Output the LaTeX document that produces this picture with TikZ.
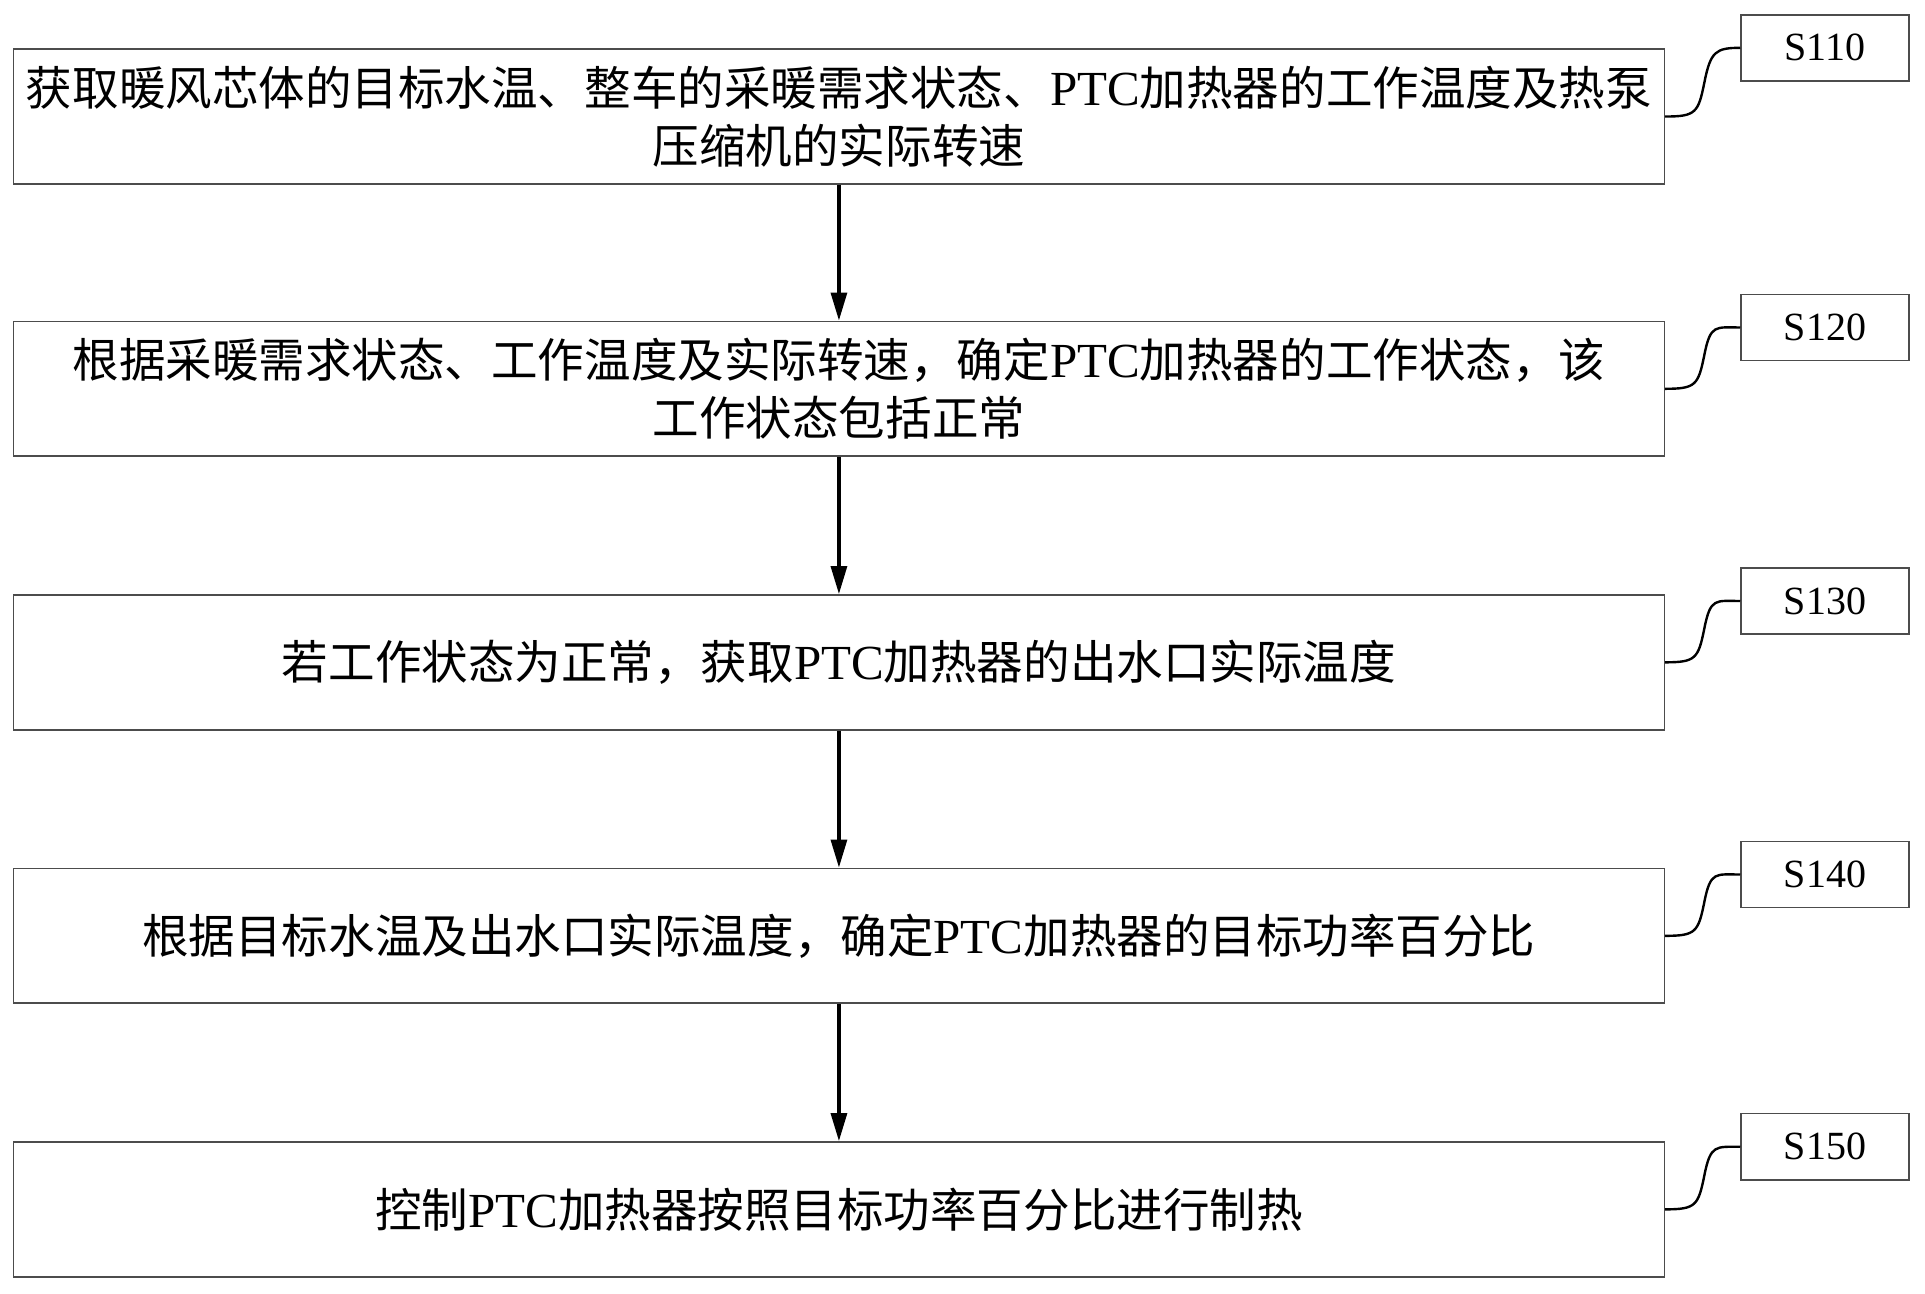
\documentclass[tikz,border=0pt]{standalone}
\usepackage{fontspec}
\setmainfont{Liberation Serif}
\newfontfamily\cjk{Noto Sans CJK SC}[Scale=0.95]
\begin{document}
\begin{tikzpicture}[x=0.6133pt,y=-0.6133pt,
  stepbox/.style={draw=black!70,line width=0.8pt,minimum width=1346*0.6133pt,minimum height=110*0.6133pt,align=center,inner sep=0pt,font=\fontsize{24.5}{29}\selectfont},
  tagbox/.style={draw=black!70,line width=0.8pt,minimum width=137*0.6133pt,minimum height=54*0.6133pt,inner sep=0pt,font=\fontsize{20}{22}\selectfont},
  arr/.style={-{Triangle[length=14pt,width=8pt]},line width=1.6pt},
  wig/.style={line width=1.2pt}]
\usetikzlibrary{arrows.meta}
\useasboundingbox (0,0) rectangle (1569.5,1055);
\node[stepbox] (b1) at (684,95) {{\cjk 获取暖风芯体的目标水温、整车的采暖需求状态、}PTC{\cjk 加热器的工作温度及热泵}\\{\cjk 压缩机的实际转速}};
\node[stepbox] (b2) at (684,317) {{\cjk 根据采暖需求状态、工作温度及实际转速，确定}PTC{\cjk 加热器的工作状态，该}\\{\cjk 工作状态包括正常}};
\node[stepbox] (b3) at (684,540) {{\cjk 若工作状态为正常，获取}PTC{\cjk 加热器的出水口实际温度}};
\node[stepbox] (b4) at (684,763) {{\cjk 根据目标水温及出水口实际温度，确定}PTC{\cjk 加热器的目标功率百分比}};
\node[stepbox] (b5) at (684,986) {{\cjk 控制}PTC{\cjk 加热器按照目标功率百分比进行制热}};
\foreach \i/\y/\t in {1/39/S110,2/267/S120,3/490/S130,4/713/S140,5/935/S150}{
  \node[tagbox] (t\i) at (1488,\y) {\t};
  \draw[wig] (b\i.east) .. controls ++(25,0) and ++(-5,25) .. ++(32,-28) .. controls ++(5,-25) and ++(-20,0) .. (t\i.west);
}
\foreach \a/\b in {b1/b2,b2/b3,b3/b4,b4/b5} \draw[arr] (\a.south) -- (\b.north);
\end{tikzpicture}
\end{document}
